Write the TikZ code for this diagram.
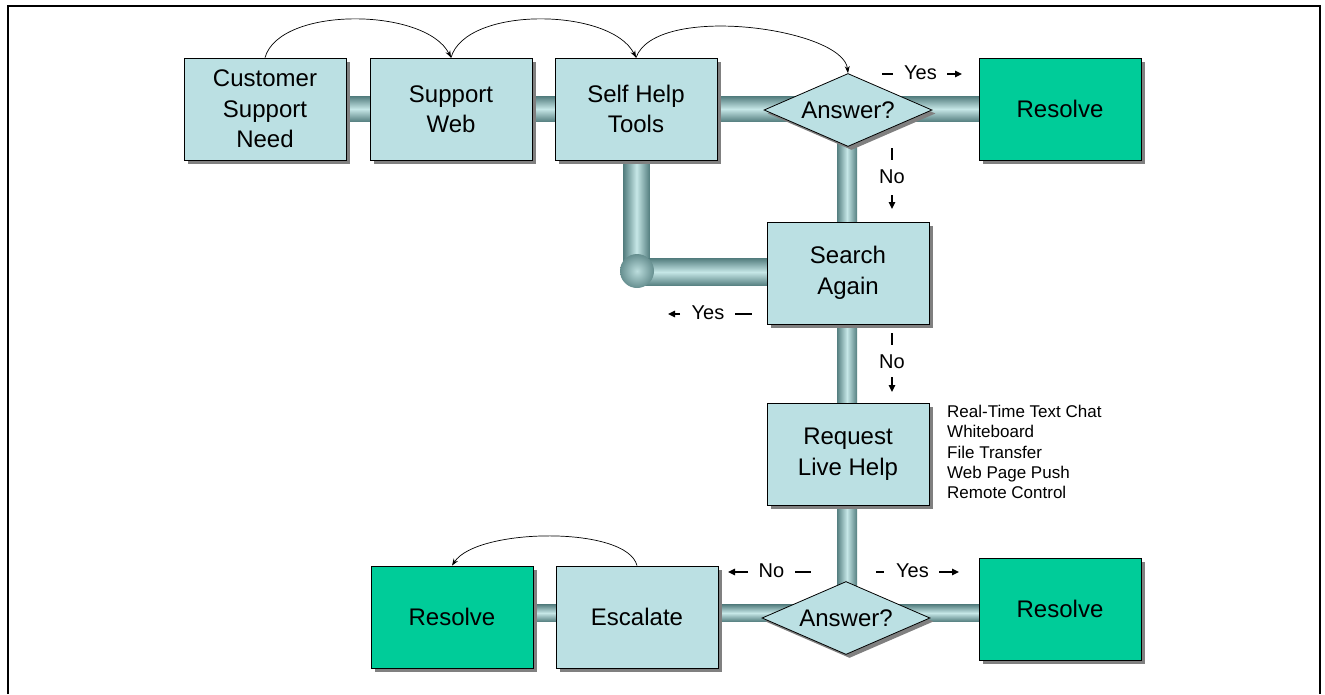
\documentclass[tikz,border=0pt]{standalone}
\usepackage{fontspec}
\setmainfont{Liberation Sans}
\usetikzlibrary{shapes.geometric,shadows,calc,arrows.meta}
\pgfdeclarelayer{background}
\pgfsetlayers{background,main}
\definecolor{boxc}{HTML}{BBE0E3}
\definecolor{grn}{HTML}{00CC99}
\definecolor{pipeD}{HTML}{557F80}
\definecolor{pipeL}{HTML}{C6E7E7}
\begin{document}
\begin{tikzpicture}[x=1pt,y=-1pt,
  box/.style={draw=black, line width=0.8pt, fill=boxc, minimum width=162pt, minimum height=102pt,
    inner sep=0pt, align=center, font=\fontsize{24}{30.5}\selectfont,
    drop shadow={shadow xshift=3.5pt, shadow yshift=-3.5pt, fill=black!50, opacity=1}},
  gbox/.style={box, fill=grn},
  dia/.style={diamond, aspect=2.3, draw=black, line width=0.8pt, fill=boxc, minimum width=168pt, minimum height=73pt,
    inner sep=0pt, font=\fontsize{24}{26}\selectfont,
    drop shadow={shadow xshift=3.5pt, shadow yshift=-3.5pt, fill=black!50, opacity=1}},
  lbl/.style={font=\fontsize{20}{22}\selectfont, inner sep=0pt},
  arc/.style={-{Stealth[length=7pt,width=5pt]}, line width=0.7pt},
  tick/.style={line width=1.2pt},
  tarrow/.style={-{Triangle[length=7pt,width=6.5pt]}, line width=1.3pt},
  hpipe/.style={top color=pipeD, bottom color=pipeD, middle color=pipeL},
  vpipe/.style={left color=pipeD, right color=pipeD, middle color=pipeL},
]
\useasboundingbox (0,0) rectangle (1325,694);
\draw[line width=2pt] (8,694) -- (8,6) -- (1320,6) -- (1320,694);

% nodes
\node[box] (b1) at (265,109) {Customer\\Support\\Need};
\node[box] (b2) at (451,109) {Support\\Web};
\node[box] (b3) at (636,109) {Self Help\\Tools};
\node[dia] (d1) at (848,110) {Answer?};
\node[gbox] (r1) at (1060,109) {Resolve};
\node[box] (sa) at (848,273) {Search\\Again};
\node[box] (rl) at (848,454) {Request\\Live Help};
\node[dia] (d2) at (846,618) {Answer?};
\node[gbox] (r2) at (1060,609) {Resolve};
\node[box] (es) at (637,617) {Escalate};
\node[gbox] (r3) at (452,617) {Resolve};
\coordinate (j) at (637,271);

% pipes
\begin{pgfonlayer}{background}
\shade[hpipe] ($(b1.center)+(0,-12.5)$) rectangle ($(r1.center)+(0,12.5)$);
\shade[vpipe] ($(d1.center)+(-11,0)$) rectangle ($(d2.center)+(11,0)$);
\shade[vpipe] ($(b3.center)+(-12.5,0)$) rectangle ($(j)+(12.5,0)$);
\shade[hpipe] ($(j)+(0,-12.5)$) rectangle ($(sa.center)+(0,12.5)$);
\shade[inner color=pipeL!90!pipeD, outer color=pipeD!85!pipeL] (j) circle[radius=17];
\shade[hpipe] ($(r3.center)+(0,-12.5)$) rectangle ($(r2.center)+(0,12.5)$);
\end{pgfonlayer}

% curved arrows
\draw[arc] (b1.north) .. controls +(15,-52) and +(-25,-50) .. (b2.north);
\draw[arc] (b2.north) .. controls +(15,-52) and +(-25,-50) .. (b3.north);
\draw[arc] (b3.north) .. controls +(20,-55) and +(-5,-45) .. (d1.north);
\draw[arc] (es.north) .. controls +(-10,-40) and +(25,-38) .. (r3.north);

% labels
\node[lbl] (y1) at (920.5,73) {Yes};
\draw[tick] ($(y1)+(-38.5,1)$) -- ++(11,0);
\draw[tarrow] ($(y1)+(26.5,1)$) -- ++(15,0);

\node[lbl] (n1) at (892,177) {No};
\draw[tick] ($(n1)+(0,-29)$) -- ++(0,12);
\draw[tarrow] ($(n1)+(0,18)$) -- ++(0,14);

\node[lbl] (y2) at (708,313) {Yes};
\draw[tarrow] ($(y2)+(-28,1)$) -- ++(-12,0);
\draw[tick] ($(y2)+(27,1)$) -- ++(17,0);

\node[lbl] (n2) at (892,362) {No};
\draw[tick] ($(n2)+(0,-29)$) -- ++(0,12);
\draw[tarrow] ($(n2)+(0,15)$) -- ++(0,15);

\node[lbl] (n3) at (771.5,571) {No};
\draw[tarrow] ($(n3)+(-23.5,1)$) -- ++(-20,0);
\draw[tick] ($(n3)+(23.5,1)$) -- ++(16,0);

\node[lbl] (y3) at (912.5,571) {Yes};
\draw[tick] ($(y3)+(-36.5,1)$) -- ++(8,0);
\draw[tarrow] ($(y3)+(26.5,1)$) -- ++(20,0);

\node[anchor=north west, align=left, inner sep=0pt, font=\fontsize{17}{20.3}\selectfont] (list) at (947,405)
  {Real-Time Text Chat\\Whiteboard\\File Transfer\\Web Page Push\\Remote Control};
\end{tikzpicture}
\end{document}
